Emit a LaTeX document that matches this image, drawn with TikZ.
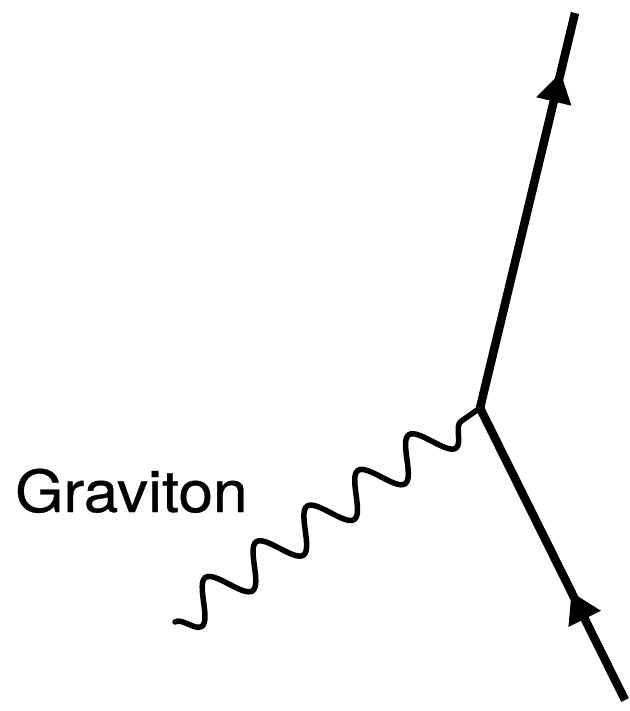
\documentclass[tikz,border=0pt]{standalone}
\usepackage{fontspec}
\setmainfont{TeX Gyre Heros}
\newfontfamily\lblfont[FakeBold=0.6,FakeStretch=1.07]{TeX Gyre Heros}
\usetikzlibrary{decorations.pathmorphing,decorations.markings,arrows.meta}
\begin{document}
\begin{tikzpicture}[x=1pt,y=-1pt,
  fermion/.style={line width=8.5pt,
    postaction={decorate,decoration={markings,
      mark=at position #1 with {\arrow{Triangle[length=30pt,width=34pt]}}}}},
  graviton/.style={line width=5.5pt,line cap=round,decorate,
    decoration={snake,segment length=62.1pt,amplitude=19pt,mirror,post length=2pt}},
  lbl/.style={font=\lblfont\fontsize{58}{60}\selectfont,inner sep=0pt,anchor=base west}]
\useasboundingbox (0,0) rectangle (629,711);
\coordinate (v) at (480,408);
\coordinate (top) at (575,13);
\coordinate (bot) at (625,700);
\coordinate (g) at (175,622);
\draw[fermion=0.85] (v) -- (top);
\draw[fermion=0.37] (bot) -- (v);
\draw[graviton] (g) -- (v);
\node[lbl] (t) at (15,512) {Graviton};
\end{tikzpicture}
\end{document}
